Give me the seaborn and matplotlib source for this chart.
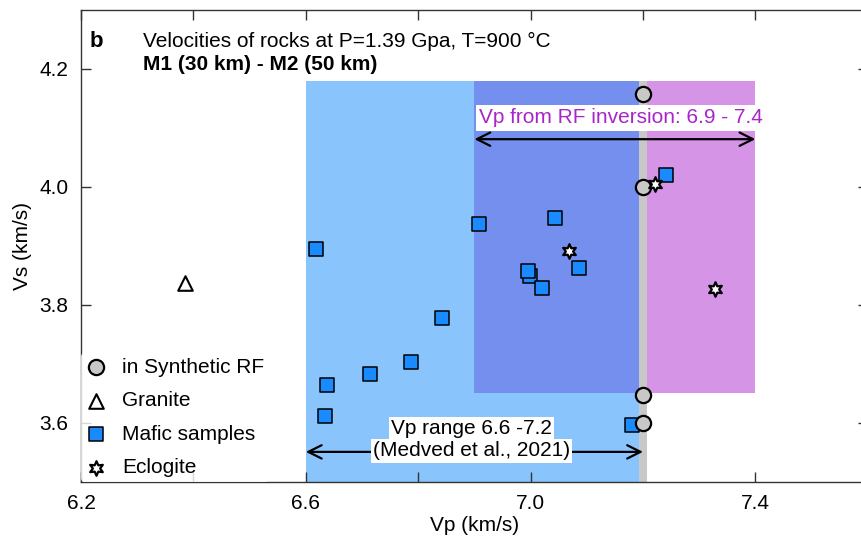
import matplotlib
matplotlib.use("Agg")
import matplotlib.pyplot as plt
import seaborn as sns
import numpy as np

# ---------------- data ----------------
synth_vp = [7.2, 7.2, 7.2, 7.2]
synth_vs = [4.158, 4.0, 3.648, 3.6]

granite_vp = [6.385]
granite_vs = [3.838]

mafic_vp = [6.618, 6.637, 6.635, 6.714, 6.788, 6.843, 6.908, 7.044, 6.999,
            6.995, 7.021, 7.086, 7.241, 7.181]
mafic_vs = [3.895, 3.665, 3.612, 3.683, 3.703, 3.778, 3.937, 3.948, 3.849,
            3.858, 3.829, 3.863, 4.020, 3.597]

eclogite_vp = [7.221, 7.069, 7.328]
eclogite_vs = [4.005, 3.892, 3.827]

# shaded ranges: (vp_min, vp_max, vs_min, vs_max)
medved_range = (6.6, 7.2, 3.5, 4.18)
rf_low_range = (6.9, 7.2, 3.65, 4.18)
rf_high_range = (7.2, 7.4, 3.65, 4.18)
synth_band = (7.193, 7.207, 3.5, 4.18)

rf_arrow = (6.9, 7.4, 4.081)
medved_arrow = (6.6, 7.2, 3.551)

xticks_major = [6.2, 6.6, 7.0, 7.4]
xticks_minor = [6.4, 6.8, 7.2]
yticks = [3.6, 3.8, 4.0, 4.2]

# ---------------- style ----------------
sns.set_theme(style="ticks")
plt.rcParams["font.family"] = ["Liberation Sans", "DejaVu Sans"]
plt.rcParams["text.color"] = "black"
plt.rcParams["axes.labelcolor"] = "black"
plt.rcParams["xtick.labelcolor"] = "black"
plt.rcParams["ytick.labelcolor"] = "black"

FS = 15

fig = plt.figure(figsize=(8.61, 5.39), dpi=100)
ax = fig.add_axes([0.0941, 0.1058, 0.9138, 0.8757])

c_light = "#8AC4FC"
c_dark = "#748FEE"
c_purple = "#D594E5"
c_gray = "#C8C8C8"
c_square = "#1A8AFF"


def shade(r, color, z):
    ax.fill_between([r[0], r[1]], r[2], r[3], color=color, lw=0, zorder=z)


shade(medved_range, c_light, 0.5)
shade(rf_low_range, c_dark, 0.6)
shade(rf_high_range, c_purple, 0.6)
shade(synth_band, c_gray, 0.7)

# arrows
ax.annotate("", xy=(rf_arrow[0], rf_arrow[2]), xytext=(rf_arrow[1], rf_arrow[2]),
            arrowprops=dict(arrowstyle="<->", lw=1.6, color="black",
                            mutation_scale=24, shrinkA=0, shrinkB=0), zorder=3)
ax.annotate("", xy=(medved_arrow[0], medved_arrow[2]),
            xytext=(medved_arrow[1], medved_arrow[2]),
            arrowprops=dict(arrowstyle="<->", lw=1.6, color="black",
                            mutation_scale=24, shrinkA=0, shrinkB=0), zorder=3)

ax.text(6.909, 4.117, "Vp from RF inversion: 6.9 - 7.4", color="#A826C8",
        fontsize=FS, ha="left", va="center", zorder=4,
        bbox=dict(facecolor="white", edgecolor="none", pad=2.5))
ax.text(6.895, 3.590, "Vp range 6.6 -7.2", color="black", fontsize=FS,
        ha="center", va="center", zorder=4,
        bbox=dict(facecolor="white", edgecolor="none", pad=1.5))
ax.text(6.895, 3.5525, "(Medved et al., 2021)", color="black", fontsize=FS,
        ha="center", va="center", zorder=4,
        bbox=dict(facecolor="white", edgecolor="none", pad=1.5))

# points
sns.scatterplot(x=mafic_vp, y=mafic_vs, marker="s", s=115, color=c_square,
                edgecolor="black", linewidth=1.1, label="Mafic samples",
                ax=ax, zorder=5)
sns.scatterplot(x=granite_vp, y=granite_vs, marker="^", s=110, color="white",
                edgecolor="black", linewidth=1.5, label="Granite",
                ax=ax, zorder=5)
sns.scatterplot(x=synth_vp, y=synth_vs, marker="o", s=120, color="#C8C8C8",
                edgecolor="black", linewidth=1.6, label="in Synthetic RF",
                ax=ax, zorder=6)
sns.scatterplot(x=eclogite_vp, y=eclogite_vs, marker=(6, 1, 0), s=110,
                color="white", edgecolor="black", linewidth=1.6,
                label="Eclogite", ax=ax, zorder=7)

handles, labels = ax.get_legend_handles_labels()
order = ["in Synthetic RF", "Granite", "Mafic samples", "Eclogite"]
hmap = dict(zip(labels, handles))
leg = ax.legend([hmap[k] for k in order], order, loc="lower left",
                fontsize=FS, frameon=True, facecolor="white",
                edgecolor="none", framealpha=0.8, borderaxespad=0,
                borderpad=0.22, handlelength=1.0, handletextpad=0.75,
                labelspacing=0.70, labelcolor="black")
leg.set_zorder(8)

# axes
ax.set_xlim(6.2, 7.6)
ax.set_ylim(3.5, 4.3)
ax.set_xticks(xticks_major)
ax.set_xticks(xticks_minor, minor=True)
ax.set_yticks(yticks)
ax.set_xticklabels([f"{v:.1f}" for v in xticks_major])
ax.set_yticklabels([f"{v:.1f}" for v in yticks])
ax.tick_params(which="both", direction="in", length=7.5, width=1.0,
               top=True, right=True, labelsize=FS, pad=9, color="#333333",
               labelcolor="black")
for sp in ax.spines.values():
    sp.set_linewidth(1.0)
    sp.set_color("#333333")
    sp.set_visible(True)

ax.set_xlabel("Vp (km/s)", fontsize=FS, labelpad=2, color="black")
ax.set_ylabel("Vs (km/s)", fontsize=FS, labelpad=5, color="black")

# header texts
ax.text(0.0114, 0.9222, "b", transform=ax.transAxes, fontsize=FS + 1,
        fontweight="bold", va="baseline", ha="left", color="black")
ax.text(0.0792, 0.9222, "Velocities of rocks at P=1.39 Gpa, T=900 °C",
        transform=ax.transAxes, fontsize=FS, va="baseline", ha="left",
        color="black")
ax.text(0.0792, 0.873, "M1 (30 km) - M2 (50 km)", transform=ax.transAxes,
        fontsize=FS, fontweight="bold", va="baseline", ha="left",
        color="black")

fig.savefig("out.png", dpi=100)
